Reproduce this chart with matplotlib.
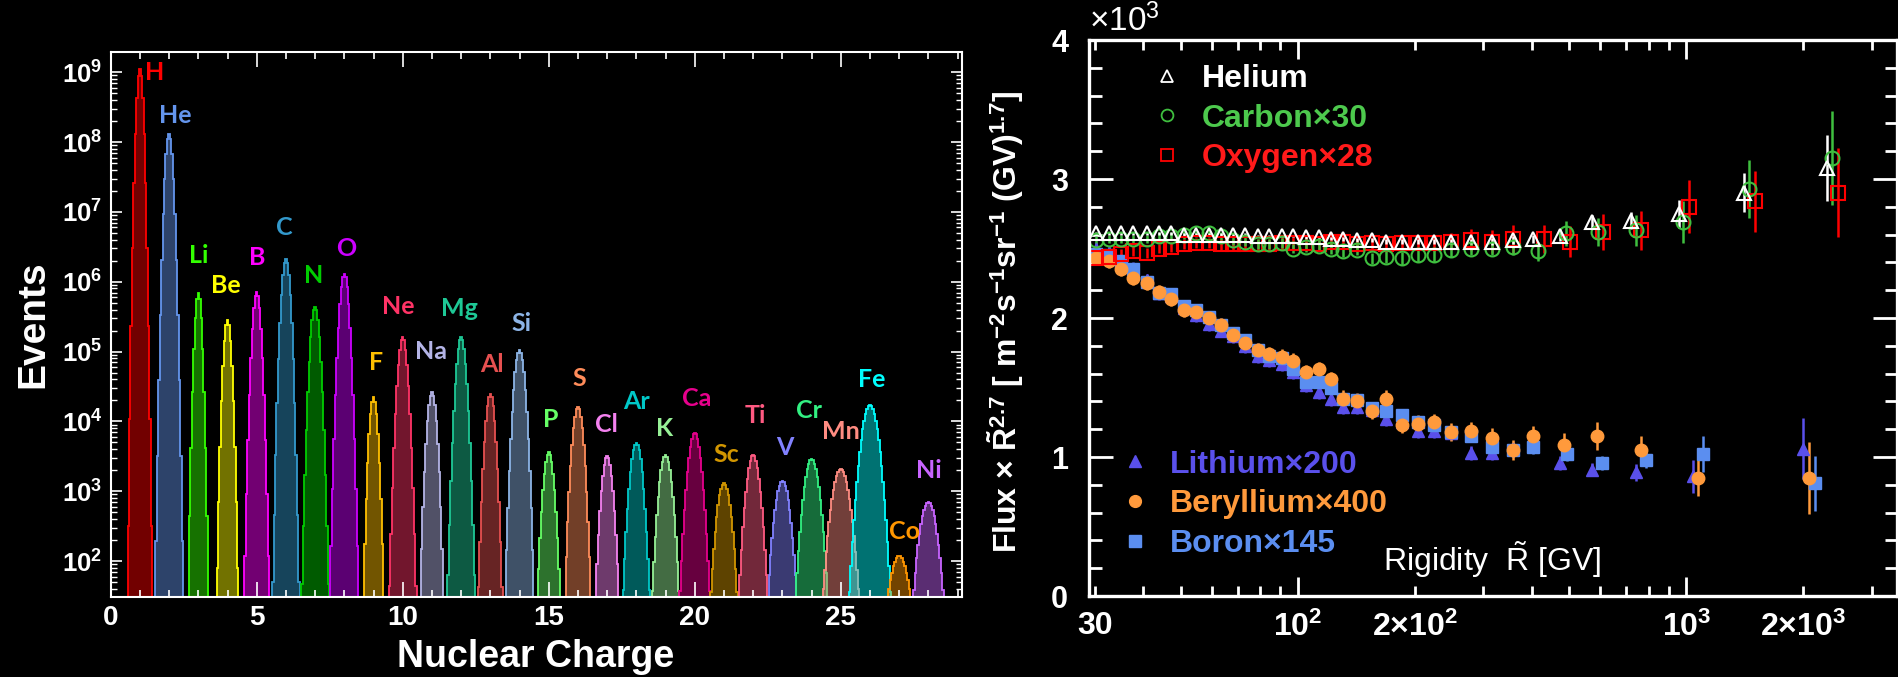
"""Charge spectrum of cosmic nuclei and rigidity dependence of the fluxes."""

import numpy as np
import matplotlib
matplotlib.use("Agg")
import matplotlib.pyplot as plt
from matplotlib import font_manager
from matplotlib.lines import Line2D
from matplotlib.colors import to_rgb
from matplotlib.ticker import LogLocator, FixedLocator, MultipleLocator, NullFormatter, FuncFormatter

plt.rcParams['font.family'] = ['Liberation Sans', 'DejaVu Sans']
plt.rcParams['mathtext.default'] = 'regular'

# narrow font for the log tick labels if it is around
have_narrow = any(f.name == 'Liberation Sans Narrow' for f in font_manager.fontManager.ttflist)
log_label_font = 'Liberation Sans Narrow' if have_narrow else 'Liberation Sans'
log_label_size = 20 if have_narrow else 18.5

# ---------------- left panel: charge histogram ----------------
elements = ['H', 'He', 'Li', 'Be', 'B', 'C', 'N', 'O', 'F', 'Ne', 'Na', 'Mg', 'Al', 'Si',
            'P', 'S', 'Cl', 'Ar', 'K', 'Ca', 'Sc', 'Ti', 'V', 'Cr', 'Mn', 'Fe', 'Co', 'Ni']
charges = list(range(1, 29))
peak_counts = [1.1e9, 1.3e8, 6.9e5, 2.8e5, 7.2e5, 2.1e6, 4.4e5, 1.3e6, 2.2e4, 1.6e5,
               2.6e4, 1.6e5, 2.5e4, 1.05e5, 3.6e3, 1.6e4, 3.2e3, 4.9e3, 3.3e3, 6.9e3,
               1.3e3, 3.3e3, 1.4e3, 2.9e3, 2.1e3, 1.7e4, 1.2e2, 6.9e2]
# half width of each peak where it reaches the bottom of the plot
peak_halfwidth = [0.43, 0.48, 0.35, 0.37, 0.43, 0.46, 0.46, 0.49, 0.35, 0.46,
                  0.40, 0.47, 0.41, 0.50, 0.39, 0.45, 0.40, 0.46, 0.46, 0.51,
                  0.46, 0.49, 0.50, 0.55, 0.62, 0.71, 0.39, 0.52]
colors = ['#ff0000', '#6495ed', '#33ff00', '#ffff00', '#ff00ff', '#3399cc', '#00cc00',
          '#cc00ff', '#ffbf00', '#ff3366', '#b4b4e6', '#1ec896', '#e65050', '#8cb4e6',
          '#66ff66', '#ff8c5a', '#f582f0', '#00c8c8', '#96f096', '#e6008c', '#d29600',
          '#ff5a82', '#8282ff', '#32f082', '#ff8c82', '#00ffff', '#ff9600', '#c864ff']
# label anchor (charge, log10 events)
label_pos = [(1.51, 9.0), (2.21, 8.38), (3.01, 6.38), (3.95, 5.95), (5.0, 6.35),
             (5.94, 6.78), (6.96, 6.09), (8.07, 6.48), (9.09, 4.85), (9.83, 5.65),
             (10.96, 5.0), (11.95, 5.62), (13.05, 4.82), (14.08, 5.40), (15.07, 4.03),
             (16.06, 4.62), (16.99, 3.95), (18.01, 4.28), (18.95, 3.90), (20.07, 4.33),
             (21.08, 3.52), (22.09, 4.09), (23.07, 3.63), (23.92, 4.16), (25.0, 3.85),
             (26.06, 4.60), (27.17, 2.42), (28.0, 3.30)]

# ---------------- right panel: flux x R^2.7 (units of 10^3) ----------------
rig_grid = [30.2, 32.6, 35.1, 37.7, 40.8, 43.8, 47.2, 50.9, 54.8, 58.9,
            63.4, 68.0, 73.1, 78.8, 84.4, 90.8, 97.3, 104.7, 113, 122,
            131, 142, 155, 169, 185, 204, 224, 248, 279, 315, 358]

he_x = rig_grid + [404, 473, 573, 718, 958, 1406, 2301]
he_y = [2.61, 2.61, 2.61, 2.61, 2.61, 2.61, 2.61, 2.60, 2.60, 2.60,
        2.60, 2.60, 2.60, 2.59, 2.59, 2.59, 2.59, 2.58, 2.58, 2.57,
        2.57, 2.56, 2.56, 2.55, 2.55, 2.55, 2.55, 2.55, 2.55, 2.55,
        2.56, 2.57, 2.59, 2.69, 2.70, 2.75, 2.90, 3.08]
he_err = [0.01, 0.01, 0.01, 0.01, 0.01, 0.01, 0.01, 0.01, 0.01, 0.01,
          0.01, 0.01, 0.01, 0.01, 0.01, 0.01, 0.01, 0.01, 0.01, 0.01,
          0.015, 0.015, 0.015, 0.015, 0.015, 0.02, 0.02, 0.02, 0.02, 0.025,
          0.03, 0.03, 0.035, 0.05, 0.06, 0.10, 0.14, 0.24]

c_x = rig_grid + [415, 489, 593, 743, 982, 1449, 2371]
c_y = [2.56, 2.57, 2.57, 2.57, 2.57, 2.59, 2.59, 2.60, 2.61, 2.61,
       2.59, 2.56, 2.55, 2.53, 2.53, 2.54, 2.50, 2.51, 2.52, 2.50,
       2.48, 2.49, 2.43, 2.44, 2.43, 2.45, 2.45, 2.49, 2.50, 2.50,
       2.51, 2.48, 2.61, 2.62, 2.63, 2.69, 2.93, 3.15]
c_err = [0.03, 0.03, 0.03, 0.03, 0.03, 0.03, 0.03, 0.03, 0.03, 0.03,
         0.03, 0.035, 0.035, 0.035, 0.035, 0.035, 0.035, 0.035, 0.04, 0.04,
         0.04, 0.04, 0.04, 0.045, 0.045, 0.045, 0.045, 0.05, 0.05, 0.05,
         0.06, 0.07, 0.09, 0.10, 0.11, 0.15, 0.21, 0.34]

o_x = rig_grid + [429, 502, 609, 762, 1016, 1503, 2455]
o_y = [2.43, 2.44, 2.46, 2.48, 2.47, 2.50, 2.51, 2.53, 2.54, 2.54,
       2.53, 2.53, 2.53, 2.53, 2.53, 2.54, 2.54, 2.54, 2.53, 2.55,
       2.55, 2.53, 2.54, 2.53, 2.54, 2.54, 2.54, 2.55, 2.56, 2.55,
       2.57, 2.57, 2.55, 2.62, 2.63, 2.80, 2.84, 2.90]
o_err = [0.035, 0.035, 0.035, 0.035, 0.035, 0.035, 0.035, 0.035, 0.035, 0.035,
         0.04, 0.04, 0.04, 0.04, 0.04, 0.04, 0.04, 0.04, 0.04, 0.045,
         0.045, 0.045, 0.045, 0.05, 0.05, 0.05, 0.055, 0.06, 0.08, 0.08,
         0.10, 0.10, 0.11, 0.13, 0.14, 0.19, 0.22, 0.32]

li_x = rig_grid + [404, 473, 573, 742, 1042, 2000]
li_y = [2.50, 2.47, 2.41, 2.35, 2.27, 2.18, 2.16, 2.07, 2.02, 1.96,
        1.91, 1.87, 1.80, 1.73, 1.70, 1.67, 1.61, 1.52, 1.47, 1.42,
        1.36, 1.36, 1.34, 1.27, 1.25, 1.19, 1.19, 1.17, 1.03, 1.03,
        1.06, 1.08, 0.96, 0.91, 0.89, 0.86, 1.06]
li_err = [0.05, 0.05, 0.05, 0.05, 0.05, 0.05, 0.05, 0.05, 0.05, 0.05,
          0.05, 0.05, 0.05, 0.05, 0.05, 0.05, 0.05, 0.05, 0.05, 0.05,
          0.05, 0.05, 0.05, 0.05, 0.05, 0.05, 0.05, 0.05, 0.05, 0.05,
          0.05, 0.05, 0.05, 0.05, 0.06, 0.12, 0.22]

be_x = rig_grid + [404, 483, 587, 766, 1070, 2070]
be_y = [2.43, 2.41, 2.35, 2.29, 2.25, 2.19, 2.14, 2.06, 2.04, 2.00,
        1.95, 1.88, 1.82, 1.77, 1.74, 1.72, 1.69, 1.61, 1.63, 1.56,
        1.42, 1.40, 1.33, 1.42, 1.23, 1.24, 1.25, 1.18, 1.19, 1.14,
        1.05, 1.15, 1.09, 1.15, 1.05, 0.85, 0.85]
be_err = [0.05, 0.05, 0.05, 0.05, 0.05, 0.05, 0.05, 0.05, 0.05, 0.05,
          0.05, 0.05, 0.05, 0.05, 0.055, 0.055, 0.055, 0.055, 0.055, 0.055,
          0.06, 0.06, 0.06, 0.06, 0.06, 0.06, 0.06, 0.065, 0.065, 0.07,
          0.07, 0.07, 0.08, 0.10, 0.10, 0.13, 0.26]

b_x = rig_grid + [404, 493, 608, 787, 1105, 2140]
b_y = [2.46, 2.45, 2.41, 2.35, 2.26, 2.18, 2.17, 2.09, 2.06, 2.01,
       1.95, 1.89, 1.84, 1.77, 1.73, 1.71, 1.63, 1.54, 1.54, 1.50,
       1.42, 1.41, 1.35, 1.33, 1.30, 1.25, 1.23, 1.18, 1.15, 1.07,
       1.05, 1.07, 1.02, 0.96, 0.98, 1.02, 0.81]
b_err = [0.03, 0.03, 0.03, 0.03, 0.03, 0.03, 0.03, 0.03, 0.03, 0.03,
         0.03, 0.03, 0.03, 0.03, 0.03, 0.035, 0.035, 0.035, 0.035, 0.035,
         0.035, 0.035, 0.04, 0.04, 0.04, 0.04, 0.04, 0.04, 0.045, 0.045,
         0.05, 0.05, 0.05, 0.05, 0.06, 0.13, 0.20]

fig = plt.figure(figsize=(18.99, 6.77), dpi=100, facecolor='black')

# ======== left panel ========
ax1 = fig.add_axes([0.0583, 0.1182, 0.4483, 0.8055], facecolor='black')
ax1.set_yscale('log')
ymin, ymax = 30.6, 1.97e9
bin_w = 0.05
for z, name, top, hw, col, (lx, ly) in zip(charges, elements, peak_counts,
                                           peak_halfwidth, colors, label_pos):
    # gaussian peak that falls to the plot floor at +-hw
    drop = np.log10(top) - np.log10(ymin)
    sig = hw * np.sqrt(np.log10(np.e) / (2 * drop))
    n = int(np.ceil(hw * 1.35 / bin_w))
    edges = z + (np.arange(-n, n + 2) - 0.5) * bin_w
    centers = 0.5 * (edges[:-1] + edges[1:])
    counts = top * np.exp(-0.5 * ((centers - z) / sig) ** 2)
    r, g, b = to_rgb(col)
    ax1.stairs(counts, edges, baseline=1e-3, fill=True, facecolor=(r, g, b, 0.45),
               edgecolor='none')
    ax1.stairs(counts, edges, baseline=1e-3, color=col, lw=1.3)
    ax1.text(lx, 10 ** ly, name, color=col, fontsize=18, fontweight='bold',
             family=['Lato', 'DejaVu Sans'], ha='center', va='center')

ax1.set_xlim(0, 29.15)
ax1.set_ylim(ymin, ymax)
ax1.xaxis.set_major_locator(MultipleLocator(5))
ax1.xaxis.set_minor_locator(MultipleLocator(1))
ax1.yaxis.set_major_locator(LogLocator(base=10, numticks=20))
ax1.yaxis.set_minor_locator(LogLocator(base=10, subs=np.arange(2, 10), numticks=20))
ax1.yaxis.set_minor_formatter(NullFormatter())
ax1.tick_params(which='both', direction='in', top=True, right=True, colors='white')
ax1.tick_params(axis='x', which='major', length=11, width=1.2, labelsize=20, pad=6)
ax1.tick_params(axis='x', which='minor', length=5, width=1.2)
ax1.tick_params(axis='y', which='major', length=8, width=1.2, labelsize=log_label_size, pad=6)
ax1.tick_params(axis='y', which='minor', length=4, width=1.0)
for lab in ax1.get_xticklabels():
    lab.set_fontweight('bold')
for lab in ax1.get_yticklabels():
    lab.set_fontweight('bold')
    lab.set_family([log_label_font, 'DejaVu Sans'])
for sp in ax1.spines.values():
    sp.set_color('white')
    sp.set_linewidth(1.5)

fig.text(33 / 1899, 1 - 324 / 677, 'Events', rotation=90, color='white',
         fontsize=28, fontweight='bold', ha='center', va='center')
fig.text(536 / 1899, 1 - 657 / 677, 'Nuclear Charge', color='white',
         fontsize=27, fontweight='bold', ha='center', va='center')

# ======== right panel ========
ax2 = fig.add_axes([0.5735, 0.1196, 0.4255, 0.8213], facecolor='black')
ax2.set_xscale('log')

ebar = dict(ls='none', capsize=0, elinewidth=1.8)
ax2.errorbar(li_x, li_y, yerr=li_err, fmt='^', color='#5a50eb', ms=8, **ebar)
ax2.errorbar(b_x, b_y, yerr=b_err, fmt='s', color='#5b8ef0', ms=8, **ebar)
ax2.errorbar(be_x, be_y, yerr=be_err, fmt='o', color='#ff9a3c', ms=9, **ebar)
ax2.errorbar(o_x, o_y, yerr=o_err, fmt='s', color='#ff0000', mfc='none', mew=1.5,
             ms=10, **ebar)
ax2.errorbar(c_x, c_y, yerr=c_err, fmt='o', color='#3fbf3f', mfc='none', mew=1.5,
             ms=10, **ebar)
ax2.errorbar(he_x, he_y, yerr=he_err, fmt='^', color='white', mfc='none', mew=1.5,
             ms=10, **ebar)

ax2.set_xlim(29, 3486)
ax2.set_ylim(0, 4)
ax2.xaxis.set_major_locator(FixedLocator([100, 1000]))
ax2.xaxis.set_minor_locator(FixedLocator([30, 40, 50, 60, 70, 80, 90, 200, 300, 400,
                                          500, 600, 700, 800, 900, 2000, 3000]))
major_names = {100: '$10^{2}$', 1000: '$10^{3}$'}
minor_names = {30: '30', 200: r'$2{\times}10^{2}$', 2000: r'$2{\times}10^{3}$'}
ax2.xaxis.set_major_formatter(FuncFormatter(lambda v, p: major_names.get(int(round(v)), '')))
ax2.xaxis.set_minor_formatter(FuncFormatter(lambda v, p: minor_names.get(int(round(v)), '')))
ax2.yaxis.set_major_locator(MultipleLocator(1))
ax2.yaxis.set_minor_locator(MultipleLocator(0.2))
ax2.yaxis.set_major_formatter(FuncFormatter(lambda v, p: f'{v:.0f}'))
ax2.tick_params(which='both', direction='in', top=True, right=True, colors='white')
ax2.tick_params(axis='x', which='major', length=14, width=2, labelsize=23, pad=11)
ax2.tick_params(axis='x', which='minor', length=7, width=2, labelsize=23, pad=11)
ax2.tick_params(axis='y', which='major', length=17, width=2, labelsize=22, pad=15)
ax2.tick_params(axis='y', which='minor', length=9, width=2)
for lab in (ax2.get_xticklabels() + ax2.get_xticklabels(minor=True)
            + ax2.get_yticklabels()):
    lab.set_fontweight('bold')
for sp in ax2.spines.values():
    sp.set_color('white')
    sp.set_linewidth(2.4)

ax2.text(0.0, 1.004, r'$\times10^{3}$', transform=ax2.transAxes, color='white',
         fontsize=24, ha='left', va='bottom')
ax2.text(0.499, 0.065, r'Rigidity  $\tilde{R}$ [GV]', transform=ax2.transAxes,
         color='white', fontsize=23, ha='center', va='center')
fig.text(1006 / 1899, 1 - 322 / 677,
         r'Flux $\times$ $\tilde{R}^{2.7}$ [ m$^{-2}$s$^{-1}$sr$^{-1}$ (GV)$^{1.7}$]',
         rotation=90, color='white', fontsize=23, fontweight='bold',
         ha='center', va='center')

# legends
upper = [Line2D([], [], ls='none', marker='^', mfc='none', mec='white', mew=1.3, ms=8.5),
         Line2D([], [], ls='none', marker='o', mfc='none', mec='#3fbf3f', mew=1.3, ms=8.5),
         Line2D([], [], ls='none', marker='s', mfc='none', mec='#ff0000', mew=1.3, ms=8.5)]
leg1 = ax2.legend(upper, ['Helium', 'Carbon×30', 'Oxygen×28'], loc='upper left',
                  bbox_to_anchor=(0.0767, 0.957), frameon=False, borderpad=0,
                  borderaxespad=0, handlelength=1.0, handletextpad=0.6,
                  labelspacing=0.3, prop={'size': 23, 'weight': 'bold'})
for txt, col in zip(leg1.get_texts(), ['white', '#4dc94d', '#ff1a1a']):
    txt.set_color(col)
ax2.add_artist(leg1)

lower = [Line2D([], [], ls='none', marker='^', color='#5a50eb', ms=8.5),
         Line2D([], [], ls='none', marker='o', color='#ff9a3c', ms=8.5),
         Line2D([], [], ls='none', marker='s', color='#5b8ef0', ms=8.5)]
leg2 = ax2.legend(lower, ['Lithium×200', 'Beryllium×400', 'Boron×145'], loc='lower left',
                  bbox_to_anchor=(0.037, 0.067), frameon=False, borderpad=0,
                  borderaxespad=0, handlelength=1.0, handletextpad=0.6,
                  labelspacing=0.3, prop={'size': 23, 'weight': 'bold'})
for txt, col in zip(leg2.get_texts(), ['#5a50eb', '#ff9a3c', '#5b8ef0']):
    txt.set_color(col)

fig.savefig('out.png', dpi=100, facecolor='black')
plt.close(fig)
